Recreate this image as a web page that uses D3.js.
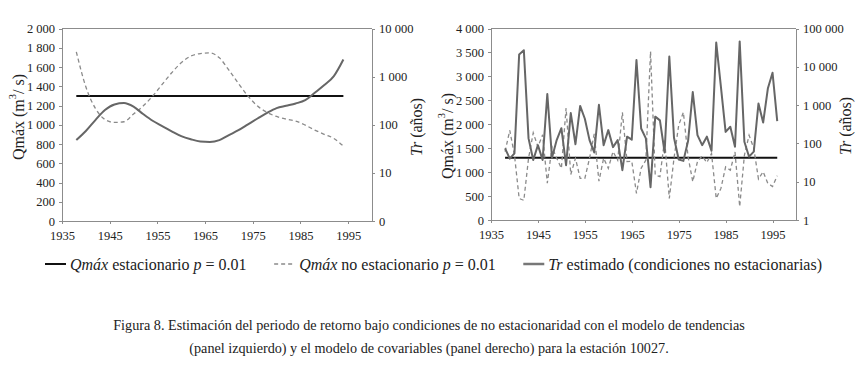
<!DOCTYPE html>
<html>
<head>
<meta charset="utf-8">
<script src="https://cdn.jsdelivr.net/npm/d3@7"></script>
<style>
    body { margin: 0; background: #fff; }
    svg text { font-family: "Liberation Serif", "Times New Roman", serif; }
    .axis path, .axis line { stroke: #8c8c8c; shape-rendering: crispEdges; }
    .axis text { fill: #222; font-size: 12.5px; }
</style>
</head>
<body>
<div id="chart"></div>
<script>

// ---- data ----

// panel izquierdo: modelo de tendencias
var yearsLeft = [1938, 1940, 1942, 1944, 1946, 1948, 1950, 1952, 1954, 1956, 1958, 1960, 1962, 1964, 1966,
    1968, 1970, 1972, 1974, 1976, 1978, 1980, 1982, 1984, 1986, 1988, 1990, 1992, 1994];
var qNoEstLeft = [1758, 1394, 1170, 1055, 1024, 1031, 1111, 1194, 1298, 1419, 1540, 1644, 1713, 1740, 1747,
    1695, 1567, 1429, 1298, 1194, 1128, 1086, 1059, 1038, 996, 945, 900, 858, 778];
var trLeft = [48, 74, 125, 202, 264, 282, 237, 167, 121, 94, 73, 58, 50, 45, 44,
    48, 61, 77, 102, 135, 177, 222, 248, 277, 325, 462, 666, 1025, 2270];

// panel derecho: modelo de covariables
var yearsRight = [1938, 1939, 1940, 1941, 1942, 1943, 1944, 1945, 1946, 1947, 1948, 1949, 1950, 1951, 1952,
    1953, 1954, 1955, 1956, 1957, 1958, 1959, 1960, 1961, 1962, 1963, 1964, 1965, 1966, 1967, 1968, 1969,
    1970, 1971, 1972, 1973, 1974, 1975, 1976, 1977, 1978, 1979, 1980, 1981, 1982, 1983, 1984, 1985, 1986,
    1987, 1988, 1989, 1990, 1991, 1992, 1993, 1994, 1995, 1996];
var qNoEstRight = [1430, 1870, 1360, 450, 410, 1290, 1820, 1530, 1780, 770, 1530, 1290, 1080, 2340, 950,
    1290, 870, 870, 1290, 1800, 810, 1290, 1080, 1430, 1250, 2250, 1220, 1230, 556, 1080, 1250, 3520,
    940, 905, 1680, 450, 1290, 1980, 2250, 1320, 800, 1220, 1340, 1200, 1390, 450, 660, 1110, 1040,
    1420, 280, 1350, 1770, 1500, 856, 1010, 765, 700, 925];
var trRight = [74, 40, 55, 21000, 27000, 135, 37, 90, 37, 1950, 42, 122, 250, 27, 620,
    95, 950, 440, 122, 58, 1020, 90, 222, 80, 122, 20, 150, 125, 15000, 245, 135, 7.2,
    500, 400, 58, 18500, 140, 38, 35, 115, 2200, 165, 90, 150, 64, 43000, 3000, 200, 272,
    82, 46000, 110, 45, 61, 1100, 350, 2700, 7000, 380];

// Qmáx estacionario (p = 0.01), igual en ambos paneles
var qEstacionario = 1300;

// ticks
var yearTicks = [1935, 1945, 1955, 1965, 1975, 1985, 1995];
var qTicksLeft = [0, 200, 400, 600, 800, 1000, 1200, 1400, 1600, 1800, 2000];
var qTicksRight = [0, 500, 1000, 1500, 2000, 2500, 3000, 3500, 4000];
var trTicksLeft = [1, 10, 100, 1000, 10000];
var trTickLabelsLeft = ["0", "10", "100", "1 000", "10 000"];
var trTicksRight = [1, 10, 100, 1000, 10000, 100000];
var trTickLabelsRight = ["1", "10", "100", "1 000", "10 000", "100 000"];

var legendItems = [
    { key: "est", parts: [["Qmáx", true], [" estacionario ", false], ["p", true], [" = 0.01", false]] },
    { key: "noest", parts: [["Qmáx", true], [" no estacionario ", false], ["p", true], [" = 0.01", false]] },
    { key: "tr", parts: [["Tr", true], [" estimado (condiciones no estacionarias)", false]] }
];
var captionLines = [
    "Figura 8. Estimación del periodo de retorno bajo condiciones de no estacionaridad con el modelo de tendencias",
    "(panel izquierdo) y el modelo de covariables (panel derecho) para la estación 10027."
];

var SERIF = "'Liberation Serif', 'Times New Roman', serif";
var fmt = d3.formatLocale({ decimal: ".", thousands: " ", grouping: [3], currency: ["", ""] }).format(",d");

var svg = d3.select("#chart").append("svg")
    .attr("width", 857)
    .attr("height", 372);

/*
 * PanelVis - one of the two dual-axis panels
 */
PanelVis = function(_svg, _opts) {
    this.svg = _svg;
    this.opts = _opts;
    this.initVis();
};

PanelVis.prototype.initVis = function() {
    var vis = this;
    var o = vis.opts;

    vis.g = vis.svg.append("g");

    vis.x = d3.scaleLinear().domain([1935, 2000]).range([o.left, o.right]);
    vis.y = d3.scaleLinear().domain([0, o.qMax]).range([o.bottom, o.top]);
    vis.y2 = d3.scaleLog().domain([1, o.trMax]).range([o.bottom, o.top]);

    // frame top line
    vis.g.append("line")
        .attr("x1", o.left).attr("x2", o.right)
        .attr("y1", o.top).attr("y2", o.top)
        .attr("stroke", "#8c8c8c")
        .attr("shape-rendering", "crispEdges");

    vis.xAxisGroup = vis.g.append("g")
        .attr("class", "axis")
        .attr("transform", "translate(0," + o.bottom + ")")
        .call(d3.axisBottom(vis.x).tickValues(yearTicks).tickFormat(d3.format("d")).tickSize(3).tickSizeOuter(0).tickPadding(7));

    vis.yAxisGroup = vis.g.append("g")
        .attr("class", "axis")
        .attr("transform", "translate(" + o.left + ",0)")
        .call(d3.axisLeft(vis.y).tickValues(o.qTicks).tickFormat(fmt).tickSize(3).tickSizeOuter(0).tickPadding(4));

    vis.y2AxisGroup = vis.g.append("g")
        .attr("class", "axis")
        .attr("transform", "translate(" + o.right + ",0)")
        .call(d3.axisRight(vis.y2).tickValues(o.trTicks)
            .tickFormat(function(d, i) { return o.trLabels[i]; })
            .tickSize(3).tickSizeOuter(0).tickPadding(4));

    vis.g.selectAll(".axis").attr("font-family", null).attr("font-size", null);
    vis.g.selectAll(".axis text").style("font-family", SERIF).style("font-size", "12.5px");

    // axis titles
    var qt = vis.g.append("text")
        .attr("transform", "translate(" + o.qTitleX + "," + o.qTitleY + ") rotate(-90)")
        .attr("text-anchor", "middle")
        .attr("dominant-baseline", "central")
        .style("font-family", SERIF)
        .style("font-size", "16px")
        .style("fill", "#222");
    qt.append("tspan").text("Qmáx (m");
    qt.append("tspan").attr("baseline-shift", "super").style("font-size", "10.5px").text("3");
    qt.append("tspan").text("/ s)");

    var tt = vis.g.append("text")
        .attr("transform", "translate(" + o.trTitleX + "," + o.trTitleY + ") rotate(-90)")
        .attr("text-anchor", "middle")
        .attr("dominant-baseline", "central")
        .style("font-family", SERIF)
        .style("font-size", "16px")
        .style("fill", "#222");
    tt.append("tspan").style("font-style", "italic").text("Tr");
    tt.append("tspan").text(" (años)");

    // lines
    var years = o.years;

    vis.g.append("line")
        .attr("x1", vis.x(years[0]))
        .attr("x2", vis.x(years[years.length - 1]))
        .attr("y1", vis.y(qEstacionario))
        .attr("y2", vis.y(qEstacionario))
        .attr("stroke", "#111")
        .attr("stroke-width", 2);

    var lineQ = d3.line()
        .x(function(d, i) { return vis.x(years[i]); })
        .y(function(d) { return vis.y(d); })
        .curve(o.curve);

    var lineTr = d3.line()
        .x(function(d, i) { return vis.x(years[i]); })
        .y(function(d) { return vis.y2(d); })
        .curve(o.curve);

    vis.g.append("path")
        .datum(o.qNoEst)
        .attr("fill", "none")
        .attr("stroke", "#8a8a8a")
        .attr("stroke-width", 1.3)
        .attr("stroke-dasharray", "4,3")
        .attr("d", lineQ);

    vis.g.append("path")
        .datum(o.tr)
        .attr("fill", "none")
        .attr("stroke", "#666")
        .attr("stroke-width", 2)
        .attr("stroke-linejoin", "round")
        .attr("d", lineTr);
};

var leftPanel = new PanelVis(svg, {
    left: 62, right: 372, top: 28.5, bottom: 221,
    qMax: 2000, trMax: 10000,
    qTicks: qTicksLeft, trTicks: trTicksLeft, trLabels: trTickLabelsLeft,
    years: yearsLeft, qNoEst: qNoEstLeft, tr: trLeft,
    curve: d3.curveMonotoneX,
    qTitleX: 18, qTitleY: 117, trTitleX: 416, trTitleY: 127
});

var rightPanel = new PanelVis(svg, {
    left: 491, right: 796, top: 28.5, bottom: 220,
    qMax: 4000, trMax: 100000,
    qTicks: qTicksRight, trTicks: trTicksRight, trLabels: trTickLabelsRight,
    years: yearsRight, qNoEst: qNoEstRight, tr: trRight,
    curve: d3.curveLinear,
    qTitleX: 447, qTitleY: 136, trTitleX: 845, trTitleY: 126
});

// ---- legend: spread across 45..822 ----
var legend = svg.append("g").attr("transform", "translate(45,264)");
var legGroups = [];
var legTextW = 0;
legendItems.forEach(function(item) {
    var g = legend.append("g");
    var ln = g.append("line")
        .attr("x1", 0).attr("x2", 21)
        .attr("y1", 0).attr("y2", 0);
    if (item.key == "est") ln.attr("stroke", "#111").attr("stroke-width", 2);
    if (item.key == "noest") ln.attr("stroke", "#8a8a8a").attr("stroke-width", 1.3).attr("stroke-dasharray", "4,3");
    if (item.key == "tr") ln.attr("stroke", "#777").attr("stroke-width", 2.5);

    var t = g.append("text")
        .attr("x", 25)
        .attr("dy", "0.35em")
        .style("font-family", SERIF)
        .style("font-size", "16px")
        .style("fill", "#222");
    item.parts.forEach(function(p) {
        t.append("tspan").style("font-style", p[1] ? "italic" : "normal").text(p[0]);
    });
    var w = 25 + t.node().getComputedTextLength();
    legTextW += w;
    legGroups.push({ g: g, w: w });
});
var legGap = (822 - 45 - legTextW) / (legGroups.length - 1);
var legX = 0;
legGroups.forEach(function(lg) {
    lg.g.attr("transform", "translate(" + legX + ",0)");
    legX += lg.w + legGap;
});

// ---- caption ----
svg.selectAll(".caption")
    .data(captionLines)
    .enter()
    .append("text")
    .attr("class", "caption")
    .attr("x", 429)
    .attr("y", function(d, i) { return 330 + i * 23; })
    .attr("text-anchor", "middle")
    .style("font-family", SERIF)
    .style("font-size", "14.2px")
    .style("fill", "#222")
    .text(function(d) { return d; });

</script>
</body>
</html>
